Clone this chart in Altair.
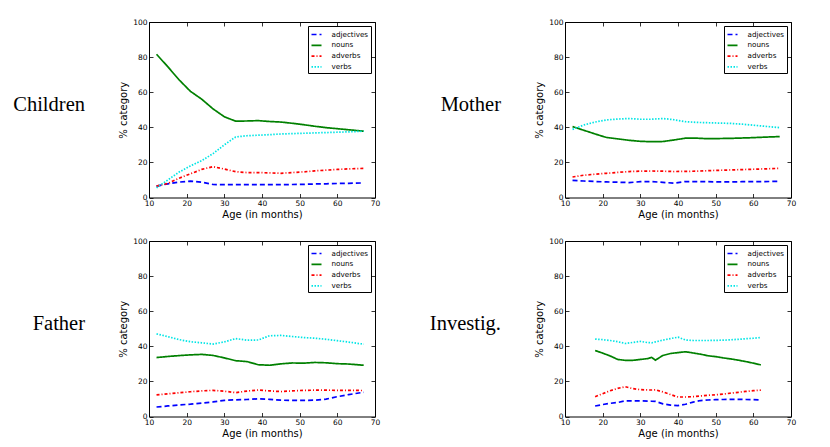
import altair as alt
import pandas as pd

# ---------------- data ----------------
categories = ["adjectives", "nouns", "adverbs", "verbs"]
speakers = ["Children", "Mother", "Father", "Investig."]

ages_children = [12, 15, 18, 21, 24, 27, 30, 33, 36, 39, 42, 45, 48, 51, 54, 57, 60, 63, 67]
children_adjectives = [6.5, 7.8, 8.8, 9.3, 8.7, 7.4, 7.3, 7.3, 7.3, 7.3, 7.3, 7.3, 7.4, 7.5, 7.7, 7.8, 8.0, 8.1, 8.3]
children_nouns = [81.6, 74.5, 67.0, 60.5, 56.0, 50.5, 46.0, 43.5, 43.6, 43.8, 43.3, 43.0, 42.3, 41.5, 40.6, 39.8, 39.2, 38.6, 37.8]
children_adverbs = [6.5, 8.0, 11.0, 13.5, 16.0, 17.6, 16.2, 14.7, 14.2, 14.2, 14.0, 13.8, 14.2, 14.6, 15.2, 15.6, 16.0, 16.3, 16.6]
children_verbs = [5.5, 10.0, 14.5, 18.0, 21.0, 25.0, 30.0, 34.5, 35.2, 35.5, 35.8, 36.2, 36.4, 36.6, 36.8, 37.0, 37.2, 37.4, 37.8]

ages_mother = [12, 15, 18, 21, 24, 27, 30, 33, 36, 39, 42, 45, 48, 51, 54, 57, 60, 63, 67]
mother_adjectives = [9.8, 9.4, 9.1, 8.9, 8.7, 8.5, 9.0, 9.1, 8.6, 8.2, 9.1, 9.1, 9.0, 8.9, 8.9, 9.0, 9.1, 9.1, 9.2]
mother_nouns = [40.4, 38.3, 36.2, 34.2, 33.4, 32.6, 32.0, 31.8, 31.9, 32.8, 33.8, 33.8, 33.5, 33.6, 33.7, 33.9, 34.1, 34.4, 34.7]
mother_adverbs = [11.7, 12.7, 13.3, 13.8, 14.3, 14.8, 15.0, 15.1, 15.0, 14.8, 14.9, 15.0, 15.3, 15.5, 15.7, 15.9, 16.1, 16.3, 16.6]
mother_verbs = [38.8, 41.3, 43.0, 44.2, 44.7, 45.0, 44.6, 44.6, 45.0, 44.3, 43.2, 42.8, 42.6, 42.4, 42.2, 41.8, 41.2, 40.6, 39.8]

ages_father = [12, 15, 18, 21, 24, 27, 30, 33, 36, 39, 42, 45, 48, 51, 54, 57, 60, 63, 67]
father_adjectives = [5.4, 6.0, 6.6, 7.0, 7.6, 8.3, 9.2, 9.5, 9.7, 10.1, 9.8, 9.3, 9.2, 9.2, 9.3, 9.9, 11.3, 12.5, 13.8]
father_nouns = [33.6, 34.2, 34.7, 35.1, 35.4, 34.8, 33.4, 31.8, 31.3, 29.5, 29.2, 30.0, 30.5, 30.4, 30.8, 30.6, 30.1, 29.9, 29.2]
father_adverbs = [12.3, 12.9, 13.5, 14.1, 14.6, 14.9, 14.4, 13.6, 14.5, 15.1, 14.6, 14.2, 14.6, 14.9, 15.0, 15.0, 14.9, 14.9, 14.8]
father_verbs = [47.1, 45.5, 43.8, 42.6, 42.0, 41.3, 42.5, 44.4, 43.5, 43.6, 46.0, 46.2, 45.6, 45.0, 44.6, 44.0, 43.2, 42.4, 41.2]

ages_investig = [18, 20, 22, 24, 26, 28, 30, 32, 33, 34, 36, 38, 40, 42, 44, 46, 48, 50, 52, 54, 56, 58, 60, 62]
investig_adjectives = [6.0, 6.8, 7.5, 8.0, 8.9, 8.9, 8.9, 8.8, 8.7, 8.6, 7.2, 6.5, 6.2, 7.0, 8.2, 9.1, 9.4, 9.6, 9.7, 9.8, 9.8, 9.7, 9.6, 9.4]
investig_nouns = [37.6, 36.1, 34.5, 32.5, 32.0, 32.0, 32.5, 33.0, 33.7, 32.1, 34.8, 35.9, 36.4, 36.9, 36.2, 35.5, 34.6, 34.1, 33.4, 32.8, 32.1, 31.3, 30.4, 29.4]
investig_adverbs = [11.3, 13.0, 14.7, 16.0, 17.0, 15.9, 15.3, 15.1, 15.1, 15.2, 14.0, 12.5, 11.1, 11.1, 11.3, 11.7, 12.1, 12.4, 12.8, 13.3, 13.8, 14.3, 14.7, 15.0]
investig_verbs = [44.1, 43.8, 43.3, 42.6, 41.6, 42.2, 42.8, 42.1, 42.0, 42.5, 43.5, 44.4, 45.2, 43.6, 43.3, 43.3, 43.3, 43.4, 43.5, 43.7, 44.0, 44.3, 44.6, 45.0]

x_ticks = [10, 20, 30, 40, 50, 60, 70]
y_ticks = [0, 20, 40, 60, 80, 100]

# ---------------- build table ----------------
series = {
    "Children": (ages_children, [children_adjectives, children_nouns, children_adverbs, children_verbs]),
    "Mother": (ages_mother, [mother_adjectives, mother_nouns, mother_adverbs, mother_verbs]),
    "Father": (ages_father, [father_adjectives, father_nouns, father_adverbs, father_verbs]),
    "Investig.": (ages_investig, [investig_adjectives, investig_nouns, investig_adverbs, investig_verbs]),
}
rows = []
for spk, (ages, vals) in series.items():
    for cat, vs in zip(categories, vals):
        for a, v in zip(ages, vs):
            rows.append({"speaker": spk, "age": a, "category": cat, "value": v})
df = pd.DataFrame(rows)

colors = ["#0000ff", "#008000", "#ff0000", "#00e5e5"]
dashes = [[5, 3], [1, 0], [3, 2, 1, 2], [1.5, 1.5]]

PW, PH = 226, 175.5

xs = alt.Scale(domain=[10, 70], nice=False, zero=False)
ys = alt.Scale(domain=[0, 100], nice=False)


def panel(name):
    base = alt.Chart(df).transform_filter(alt.datum.speaker == name)
    lines = base.mark_line(strokeWidth=1.7).encode(
        x=alt.X("age:Q", scale=xs, axis=alt.Axis(
            orient="bottom", values=x_ticks, offset=-4, tickSize=4, domain=False,
            grid=False, labelPadding=1.5, titlePadding=3, title="Age (in months)",
            labelOverlap=False, labelFlush=False)),
        y=alt.Y("value:Q", scale=ys, axis=alt.Axis(
            orient="left", values=y_ticks, offset=-4, tickSize=4, domain=False,
            grid=False, labelPadding=2, titlePadding=4, title="% category",
            labelOverlap=False, labelFlush=False)),
        color=alt.Color("category:N", scale=alt.Scale(domain=categories, range=colors),
                        legend=alt.Legend(title=None, orient="top-right")),
        strokeDash=alt.StrokeDash("category:N", scale=alt.Scale(domain=categories, range=dashes),
                                  legend=alt.Legend(title=None, orient="top-right")),
    )
    ticks = base.mark_point(opacity=0).encode(
        x=alt.X("age:Q", scale=xs, axis=alt.Axis(
            orient="top", values=x_ticks, offset=-4, tickSize=4, domain=False,
            grid=False, labels=False, title=None)),
        y=alt.Y("value:Q", scale=ys, axis=alt.Axis(
            orient="right", values=y_ticks, offset=-4, tickSize=4, domain=False,
            grid=False, labels=False, title=None)),
    )
    label = alt.Chart(pd.DataFrame({"t": [name]})).mark_text(
        font="Liberation Serif", fontSize=20.5, align="right", baseline="alphabetic", color="black"
    ).encode(text="t:N", x=alt.value(-64), y=alt.value(88.5))
    return alt.layer(lines, ticks, label).resolve_axis(x="independent", y="independent").properties(
        width=PW, height=PH)


chart = alt.concat(
    *[panel(n) for n in speakers], columns=2, spacing={"row": 16, "column": 48}
).resolve_legend(color="independent", strokeDash="independent").properties(
    padding={"left": 4, "top": 9, "right": 5, "bottom": 5}
).configure_view(
    stroke="black", strokeWidth=1
).configure_axis(
    labelFont="DejaVu Sans", labelFontSize=7.5, labelColor="black",
    titleFont="DejaVu Sans", titleFontSize=10, titleFontWeight="normal", titleColor="black",
    tickColor="black", tickWidth=0.8,
).configure_legend(
    labelFont="DejaVu Sans", labelFontSize=7.2, labelColor="black",
    strokeColor="black", fillColor="white", padding=2.5, cornerRadius=0,
    symbolType="stroke", symbolSize=100, symbolStrokeWidth=1.7, labelOffset=9,
    rowPadding=0.8, offset=4,
)

chart.save("out.html", embed_options={"renderer": "svg", "actions": False})
